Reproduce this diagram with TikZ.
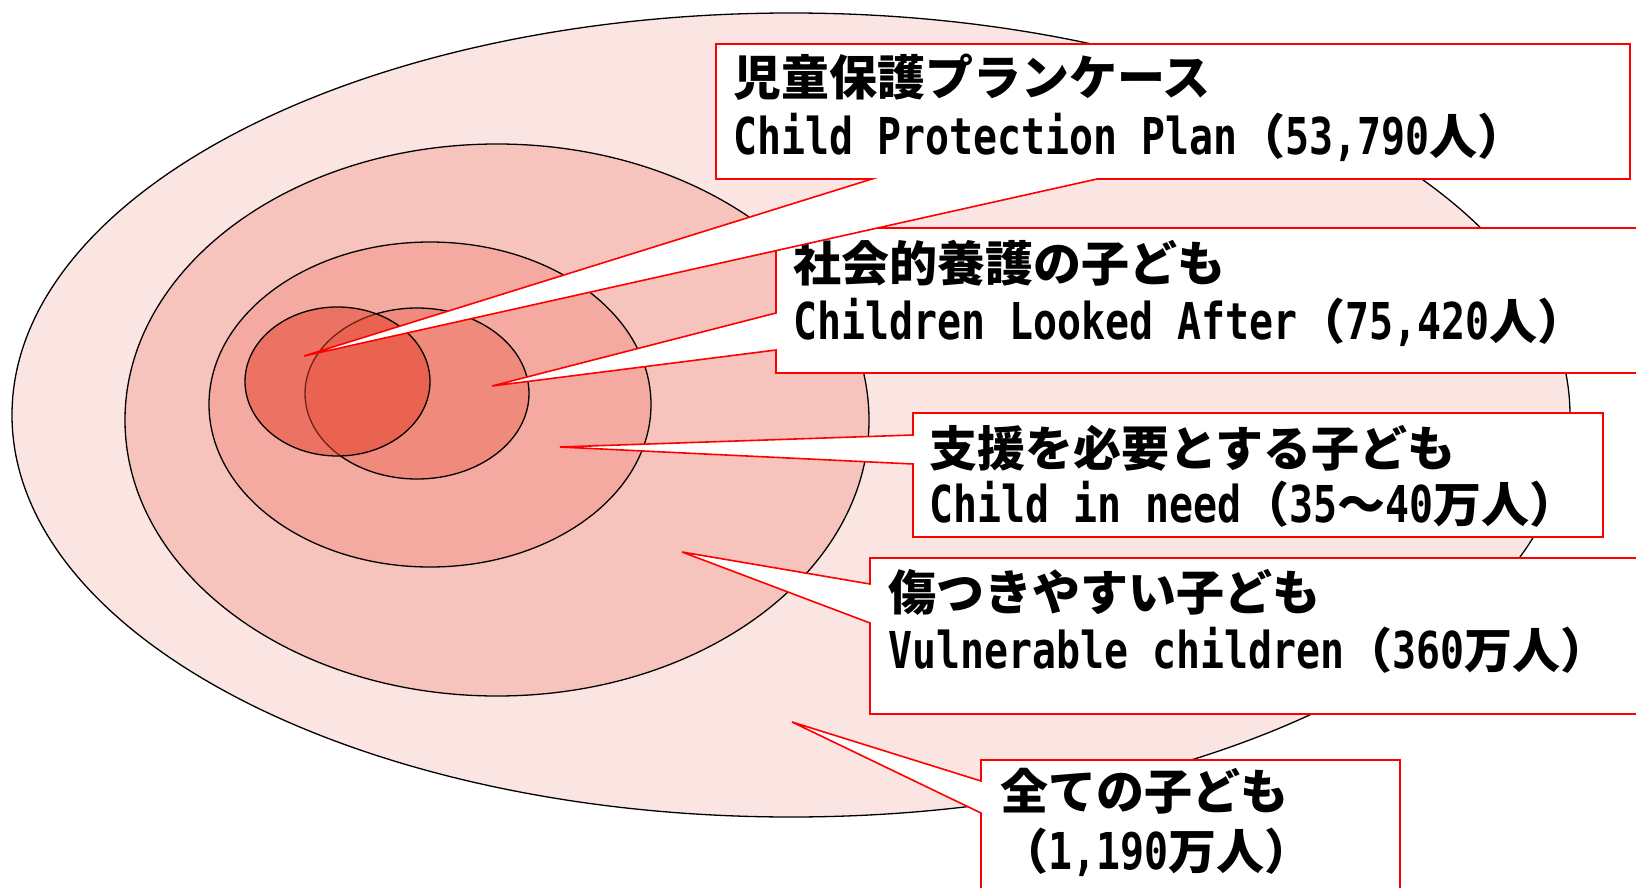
\documentclass[tikz,border=0pt]{standalone}
\usepackage{fontspec}
\newfontfamily\cjk{Noto Sans CJK JP}
\newfontfamily\latm[FakeStretch=0.785]{DejaVu Sans Mono}
\newcommand\jp[1]{{\cjk\bfseries\fontsize{48}{48}\selectfont #1}}
\newcommand\en[1]{{\latm\bfseries\fontsize{50.8}{50}\selectfont #1}}
\definecolor{cA}{HTML}{FBE5E3}
\definecolor{cB}{HTML}{F6C4BD}
\definecolor{cC}{HTML}{F4AAA0}
\definecolor{cD}{HTML}{EF8A7C}
\definecolor{cE}{HTML}{E63E28}
\begin{document}
\begin{tikzpicture}[x=1pt,y=-1pt,
  ring/.style={draw=black,line width=1.3pt},
  callout/.style={draw=red,fill=white,line width=1.6pt,line join=miter},
  txt/.style={anchor=base west,inner sep=0pt}]
\useasboundingbox (0,0) rectangle (1636,888);
\clip (0,0) rectangle (1636,888);
% rings
\path[ring,fill=cA] (791,415) ellipse [x radius=779pt,y radius=402pt];
\path[ring,fill=cB] (497,420) ellipse [x radius=372pt,y radius=276pt];
\path[ring,fill=cC] (430,404.5) ellipse [x radius=221pt,y radius=162.5pt];
\path[ring,fill=cD] (417,393.5) ellipse [x radius=112pt,y radius=85.5pt];
\path[ring,fill=cE,fill opacity=0.5] (337.5,381.5) ellipse [x radius=92.5pt,y radius=74.5pt];
% pointer tips
\coordinate (p1) at (304,356);
\coordinate (p2) at (492,386);
\coordinate (p3) at (560,447);
\coordinate (p4) at (682,552);
\coordinate (p5) at (792,722);
% callout 5: all children
\draw[callout] (981,760) -- (1400,760) -- (1400,900) -- (981,900) -- (981,813) -- (p5) -- (981,781) -- cycle;
\node[txt] (t5a) at (1000,809) {\jp{全ての子ども}};
\node[txt] (t5b) at (1000,869) {\jp{（}\en{1,190}\jp{万人）}};
% callout 4: vulnerable
\draw[callout] (870,558) -- (1650,558) -- (1650,714) -- (870,714) -- (870,623) -- (p4) -- (870,584) -- cycle;
\node[txt] (t4a) at (888,610) {\jp{傷つきやすい子ども}};
\node[txt] (t4b) at (888,668) {\en{Vulnerable children}\jp{（}\en{360}\jp{万人）}};
% callout 3: child in need
\draw[callout] (913,413) -- (1603,413) -- (1603,537) -- (913,537) -- (913,464) -- (p3) -- (913,435) -- cycle;
\node[txt] (t3a) at (929,466) {\jp{支援を必要とする子ども}};
\node[txt] (t3b) at (929,522) {\en{Child in need}\jp{（}\en{35}\jp{～}\en{40}\jp{万人）}};
% callout 2: looked after
\draw[callout] (776,228) -- (1650,228) -- (1650,373) -- (776,373) -- (776,350) -- (p2) -- (776,313) -- cycle;
\node[txt] (t2a) at (793,281) {\jp{社会的養護の子ども}};
\node[txt] (t2b) at (793,339) {\en{Children Looked After}\jp{（}\en{75,420}\jp{人）}};
% callout 1: child protection plan
\draw[callout] (716,44) -- (1630,44) -- (1630,179) -- (1097,179) -- (p1) -- (872,179) -- (716,179) -- cycle;
\node[txt] (t1a) at (733,95.5) {\jp{児童保護プランケース}};
\node[txt] (t1b) at (733,154) {\en{Child Protection Plan}\jp{（}\en{53,790}\jp{人）}};
\end{tikzpicture}
\end{document}
